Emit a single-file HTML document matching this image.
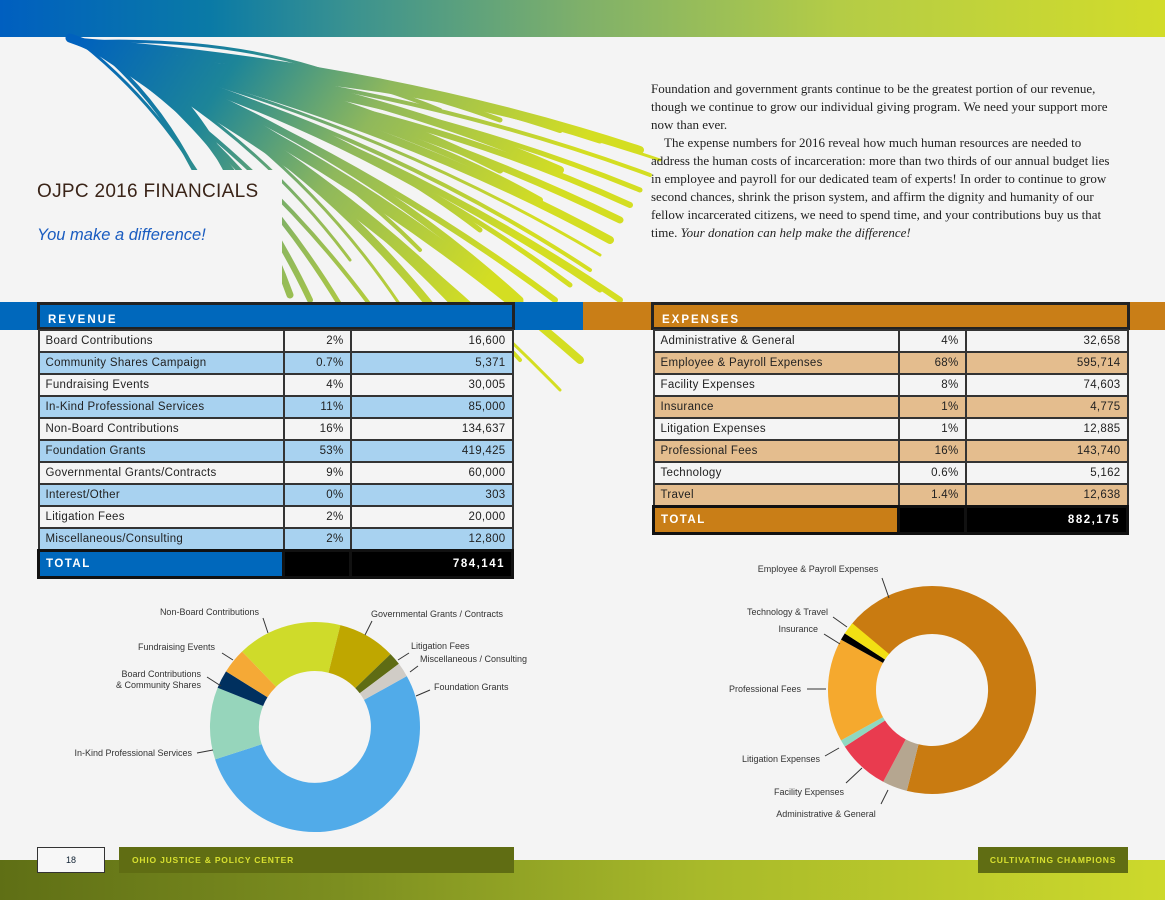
<!DOCTYPE html>
<html><head><meta charset="utf-8"><style>
*{margin:0;padding:0;box-sizing:border-box}
body{width:1165px;height:900px;background:#f4f4f4;position:relative;overflow:hidden;font-family:"Liberation Sans",sans-serif}
.abs{position:absolute}
.txt{left:651px;top:80px;font-family:"Liberation Serif",serif;font-size:13px;line-height:18px;color:#222;white-space:nowrap}
table{border-collapse:collapse;position:absolute;font-size:11.5px;color:#222}
td{border:2px solid #333;height:22px;padding:0 6px;letter-spacing:.3px}
td.r{text-align:right}
.hdr{position:absolute;height:28px;color:#fff;font-weight:bold;font-size:11.5px;letter-spacing:2px;padding:9px 0 0 8px;border:3px solid #222}
.tot td{border:3px solid #111;background:#000;color:#fff;font-weight:bold;letter-spacing:1.5px;height:27px}
.lbl{font-size:9px;fill:#333;font-family:"Liberation Sans",sans-serif}
</style></head><body>
<div class="abs" style="left:0;top:0;width:1165px;height:37px;background:linear-gradient(90deg,#005fc0 0%,#0a7aa6 18%,#3a9290 30%,#7fb06a 50%,#b4cc46 72%,#d2dc2a 100%)"></div>
<svg class="abs" style="left:0;top:0" width="700" height="400">
<defs><linearGradient id="fg" x1="80" y1="40" x2="480" y2="300" gradientUnits="userSpaceOnUse"><stop offset="0" stop-color="#0061bd"/><stop offset=".3" stop-color="#1d8598"/><stop offset=".6" stop-color="#8fb85c"/><stop offset="1" stop-color="#d4de22"/></linearGradient></defs>
<g fill="none" stroke="url(#fg)" stroke-linecap="round" id="fr"></g>
</svg>
<div class="abs" style="left:0;top:170px;width:282px;height:132px;background:#f4f4f4"></div>
<div class="abs" style="left:37px;top:181px;font-size:19px;color:#3a2418;letter-spacing:.3px">OJPC 2016 FINANCIALS</div>
<div class="abs" style="left:37px;top:226px;font-size:16.5px;color:#1a5cc0;font-style:italic">You make a difference!</div>
<div class="abs txt">Foundation and government grants continue to be the greatest portion of our revenue,<br>though we continue to grow our individual giving program. We need your support more<br>now than ever.<br>&nbsp;&nbsp;&nbsp;&nbsp;The expense numbers for 2016 reveal how much human resources are needed to<br>address the human costs of incarceration: more than two thirds of our annual budget lies<br>in employee and payroll for our dedicated team of experts! In order to continue to grow<br>second chances, shrink the prison system, and affirm the dignity and humanity of our<br>fellow incarcerated citizens, we need to spend time, and your contributions buy us that<br>time. <i>Your donation can help make the difference!</i></div>
<div class="abs" style="left:0;top:302px;width:583px;height:28px;background:#0068bc"></div>
<div class="abs" style="left:583px;top:302px;width:582px;height:28px;background:#c97e17"></div>
<div class="hdr" style="left:37px;top:302px;width:478px;background:#0068bc">REVENUE</div>
<div class="hdr" style="left:651px;top:302px;width:479px;background:#c97e17">EXPENSES</div>
<table id="rev" style="left:37px;top:329px;width:477px"></table>
<table id="exp" style="left:652px;top:329px;width:477px"></table>
<svg class="abs" style="left:0;top:540px" width="1165" height="300" id="pies"></svg>
<div class="abs" style="left:0;top:860px;width:1165px;height:40px;background:linear-gradient(90deg,#5f6f15 0%,#7d8f20 30%,#a8b92a 60%,#cdd92c 100%)"></div>
<div class="abs" style="left:37px;top:847px;width:68px;height:26px;background:#f7f7f7;border:1px solid #333;font-size:9px;text-align:center;line-height:24px;color:#123">18</div>
<div class="abs" style="left:119px;top:847px;width:395px;height:26px;background:#606d13;color:#d8e030;font-size:8.5px;font-weight:bold;letter-spacing:.8px;line-height:26px;padding-left:13px">OHIO JUSTICE &amp; POLICY CENTER</div>
<div class="abs" style="left:978px;top:847px;width:150px;height:26px;background:#606d13;color:#d8e030;font-size:8.5px;font-weight:bold;letter-spacing:.8px;line-height:26px;text-align:center">CULTIVATING CHAMPIONS</div>
<script>
var fr=document.getElementById('fr'),s='';
s+='<path stroke-width="9" d="M70 38 L125 58 L160 75"/>';
var ends=[[370,88],[440,110],[500,120],[560,130],[600,140],[640,150],[660,160],[650,175],[640,190],[630,205],[620,220],[610,240],[600,255],[590,270],[570,285],[555,300],[540,320],[580,360],[560,390],[520,360],[500,340],[480,320],[460,310],[430,305],[400,305],[370,305],[340,305],[310,300],[290,295],[270,285],[250,275],[230,260],[600,290],[620,300],[520,300],[450,290],[350,260],[420,250],[480,230],[540,200],[500,170],[560,170]];
ends.forEach(function(e,i){var ox=80+(i%5)*18,oy=42+(i%5)*7;var mx=(ox+e[0])/2+25,my=(oy+e[1])/2-30;s+='<path stroke-width="'+(3+(i*7)%6)+'" d="M'+ox+' '+oy+' Q'+mx+' '+my+' '+e[0]+' '+e[1]+'"/>';});
fr.innerHTML=s;
function tbl(id,rows,c1,c2,tot,tc){var h='';rows.forEach(function(r,i){var bg=i%2?c2:c1;h+='<tr style="background:'+bg+'"><td style="width:245px">'+r[0]+'</td><td class="r" style="width:67px">'+r[1]+'</td><td class="r">'+r[2]+'</td></tr>'});
h+='<tr class="tot"><td style="background:'+tc+';border-color:#111">TOTAL</td><td></td><td class="r">'+tot+'</td></tr>';document.getElementById(id).innerHTML=h;}
tbl('rev',[["Board Contributions","2%","16,600"],["Community Shares Campaign","0.7%","5,371"],["Fundraising Events","4%","30,005"],["In-Kind Professional Services","11%","85,000"],["Non-Board Contributions","16%","134,637"],["Foundation Grants","53%","419,425"],["Governmental Grants/Contracts","9%","60,000"],["Interest/Other","0%","303"],["Litigation Fees","2%","20,000"],["Miscellaneous/Consulting","2%","12,800"]],"#f4f4f4","#a8d2f0","784,141","#0068bc");
tbl('exp',[["Administrative &amp; General","4%","32,658"],["Employee &amp; Payroll Expenses","68%","595,714"],["Facility Expenses","8%","74,603"],["Insurance","1%","4,775"],["Litigation Expenses","1%","12,885"],["Professional Fees","16%","143,740"],["Technology","0.6%","5,162"],["Travel","1.4%","12,638"]],"#f4f4f4","#e4bd8e","882,175","#c97e17");
function arc(cx,cy,R,r,a0,a1,c){function p(rad,a){a=(a-90)*Math.PI/180;return (cx+rad*Math.cos(a)).toFixed(1)+' '+(cy+rad*Math.sin(a)).toFixed(1)}var l=(a1-a0)>180?1:0;
return '<path fill="'+c+'" d="M'+p(R,a0)+' A'+R+' '+R+' 0 '+l+' 1 '+p(R,a1)+' L'+p(r,a1)+' A'+r+' '+r+' 0 '+l+' 0 '+p(r,a0)+'Z"/>';}
var g='';
[[61,252,'#51abe9'],[252,292,'#96d5bb'],[292,302,'#00305f'],[302,316,'#f5a936'],[316,374,'#cfdb2a'],[374,406,'#bfa700'],[406,413,'#5f6c14'],[413,421,'#d0ccc6']].forEach(function(a){g+=arc(315,187,105,56,a[0],a[1],a[2])});
[[309,554,'#c97b11'],[554,568,'#b5a690'],[568,597,'#e93b4f'],[597,601,'#8fd8c0'],[601,659,'#f5a92e'],[659,663,'#000'],[663,670,'#f2e013']].forEach(function(a){g+=arc(932,150,104,56,a[0],a[1],a[2])});
function L(x,y,t,a){g+='<text class="lbl" x="'+x+'" y="'+y+'" text-anchor="'+(a||'start')+'">'+t+'</text>'}
function ln(a,b,c,d){g+='<line x1="'+a+'" y1="'+b+'" x2="'+c+'" y2="'+d+'" stroke="#333" stroke-width="1"/>'}
L(259,75,'Non-Board Contributions','end');ln(263,78,268,93);
L(371,77,'Governmental Grants / Contracts');ln(372,81,365,95);
L(215,110,'Fundraising Events','end');ln(222,113,233,120);
L(411,109,'Litigation Fees');ln(409,113,398,120);
L(420,122,'Miscellaneous / Consulting');ln(418,126,410,132);
L(201,137,'Board Contributions','end');L(201,148,'&amp; Community Shares','end');ln(207,137,221,146);
L(434,150,'Foundation Grants');ln(430,150,416,156);
L(192,216,'In-Kind Professional Services','end');ln(197,213,213,210);
L(818,32,'Employee &amp; Payroll Expenses','middle');ln(882,38,889,58);
L(828,75,'Technology &amp; Travel','end');ln(833,77,847,87);
L(818,92,'Insurance','end');ln(824,94,840,104);
L(801,152,'Professional Fees','end');ln(807,149,826,149);
L(820,222,'Litigation Expenses','end');ln(825,216,839,208);
L(844,255,'Facility Expenses','end');ln(846,243,862,228);
L(826,277,'Administrative &amp; General','middle');ln(881,264,888,250);
document.getElementById('pies').innerHTML=g;
</script>
</body></html>
